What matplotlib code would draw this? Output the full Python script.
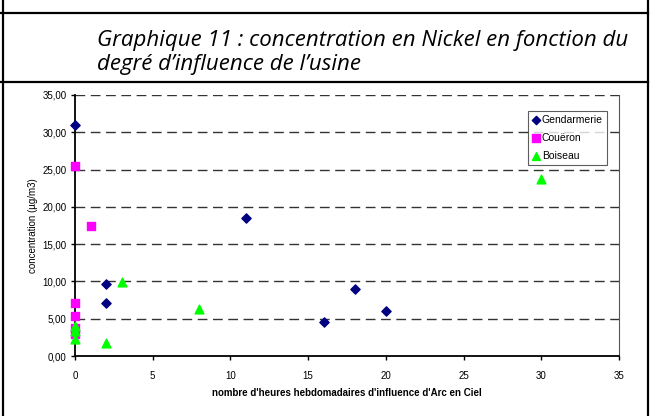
import matplotlib
matplotlib.use('Agg')
import matplotlib.pyplot as plt
from matplotlib.lines import Line2D

# données
gend_x = [0, 2, 2, 11, 16, 18, 20]
gend_y = [31.0, 9.6, 7.1, 18.5, 4.5, 9.0, 6.0]
coue_x = [0, 1, 0, 0, 0, 0]
coue_y = [25.5, 17.5, 7.1, 5.4, 3.8, 2.9]
bois_x = [0, 0, 0, 2, 3, 8, 30]
bois_y = [4.0, 3.3, 2.3, 1.7, 9.9, 6.3, 23.7]

yticks = [0, 5, 10, 15, 20, 25, 30, 35]
xticks = [0, 5, 10, 15, 20, 25, 30, 35]

W, H = 656, 416
fig = plt.figure(figsize=(W / 100, H / 100), dpi=100)
fig.patch.set_facecolor('white')

# cadre du tableau
def px_line(x0, y0, x1, y1):
    fig.add_artist(Line2D([x0 / W, x1 / W], [1 - y0 / H, 1 - y1 / H],
                          transform=fig.transFigure, color='black', lw=1.6))

px_line(3, 0, 3, H)
px_line(648, 0, 648, H)
px_line(0, 13, 648, 13)
px_line(0, 82, 648, 82)

# titre
fig.text(97 / W, 1 - 46 / H, "Graphique 11 : concentration en Nickel en fonction du",
         fontsize=16, style='italic', family='Open Sans', va='baseline', ha='left')
fig.text(97 / W, 1 - 70 / H, "degré d’influence de l’usine",
         fontsize=16, style='italic', family='Open Sans', va='baseline', ha='left')

ax = fig.add_axes([75 / W, 1 - 356 / H, (619 - 75) / W, (356 - 95) / H])
ax.set_xlim(0, 35)
ax.set_ylim(0, 35)

for v in yticks[1:]:
    ax.axhline(v, color='#333333', lw=1.0, ls=(0, (7, 4)), zorder=1)

ax.scatter(gend_x, gend_y, marker='D', s=22, color='#000080', label='Gendarmerie', zorder=3, clip_on=False)
ax.scatter(coue_x, coue_y, marker='s', s=36, color='#FF00FF', label='Couëron', zorder=3, clip_on=False)
ax.scatter(bois_x, bois_y, marker='^', s=40, color='#00FF00', label='Boiseau', zorder=3, clip_on=False)

ax.set_xticks(xticks)
ax.set_yticks(yticks)
ax.set_yticklabels([f"{v:.2f}".replace('.', ',') for v in yticks])
ax.tick_params(direction='out', length=3, width=1, labelsize=7, pad=3)
for lbl in ax.get_xticklabels() + ax.get_yticklabels():
    lbl.set_family('Liberation Sans')
ax.tick_params(axis='x', pad=8)

ax.spines['left'].set_linewidth(1.3)
ax.spines['bottom'].set_linewidth(1.3)
ax.spines['top'].set_visible(False)
ax.spines['right'].set_color('#555555')
ax.spines['right'].set_linewidth(0.8)

ax.set_ylabel('concentration (µg/m3)', fontsize=7, family='Liberation Sans', labelpad=3)
ax.set_xlabel("nombre d'heures hebdomadaires d'influence d'Arc en Ciel", fontsize=7,
              family='Liberation Sans', fontweight='bold', labelpad=5)

leg = ax.legend(loc='upper right', bbox_to_anchor=(607 / W, 1 - 111 / H),
                bbox_transform=fig.transFigure, frameon=True, fancybox=False,
                prop={'family': 'Liberation Sans', 'size': 7.5},
                handlelength=0.6, handletextpad=0.3, borderpad=0.4,
                labelspacing=0.75, borderaxespad=0, markerscale=0.9)
leg.get_frame().set_edgecolor('#333333')
leg.get_frame().set_linewidth(0.8)

fig.savefig('out.png', dpi=100, facecolor='white')
